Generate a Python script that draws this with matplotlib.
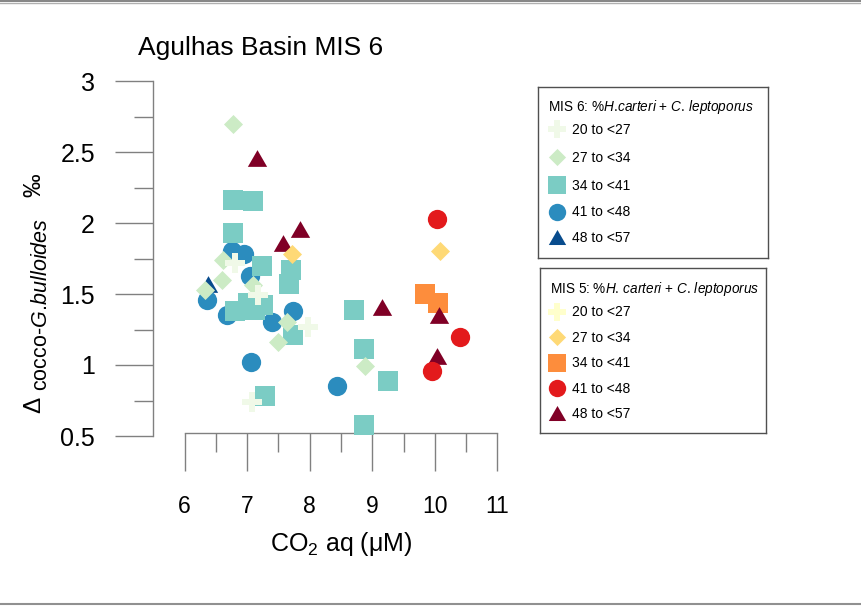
import matplotlib
matplotlib.use('Agg')
import matplotlib.pyplot as plt
from matplotlib.lines import Line2D

plt.rcParams['font.family'] = 'Liberation Sans'
plt.rcParams['mathtext.fontset'] = 'custom'
plt.rcParams['mathtext.rm'] = 'Liberation Sans'
plt.rcParams['mathtext.it'] = 'Liberation Sans:italic'
plt.rcParams['mathtext.bf'] = 'Liberation Sans:bold'

class_labels = ['20 to <27', '27 to <34', '34 to <41', '41 to <48', '48 to <57']

# MIS 6 samples, split by %H.carteri + C. leptoporus class
mis6_20_x = [6.80, 7.18, 7.98, 7.07]
mis6_20_y = [1.72, 1.49, 1.27, 0.74]
mis6_27_x = [6.78, 6.62, 6.59, 6.33, 7.10, 7.63, 7.50, 8.89]
mis6_27_y = [2.70, 1.74, 1.60, 1.53, 1.56, 1.30, 1.16, 0.99]
mis6_34_x = [6.77, 7.09, 6.77, 7.23, 7.70, 7.67, 7.01, 6.81, 7.25, 7.13, 7.73, 8.71, 8.86, 9.25, 8.86, 7.28]
mis6_34_y = [2.16, 2.155, 1.93, 1.70, 1.67, 1.57, 1.44, 1.38, 1.42, 1.39, 1.21, 1.39, 1.11, 0.89, 0.58, 0.78]
mis6_41_x = [6.75, 6.95, 7.04, 6.36, 6.68, 7.39, 7.73, 7.06, 8.43]
mis6_41_y = [1.80, 1.78, 1.63, 1.46, 1.35, 1.30, 1.38, 1.02, 0.85]
mis6_48_x = [6.38]
mis6_48_y = [1.57]

# MIS 5 samples
mis5_20_x = []
mis5_20_y = []
mis5_27_x = [7.71, 10.09]
mis5_27_y = [1.78, 1.80]
mis5_34_x = [9.84, 10.05]
mis5_34_y = [1.50, 1.44]
mis5_41_x = [10.04, 10.40, 9.96]
mis5_41_y = [2.03, 1.20, 0.96]
mis5_48_x = [7.15, 7.85, 7.58, 9.15, 10.07, 10.03]
mis5_48_y = [2.46, 1.96, 1.86, 1.41, 1.35, 1.06]

mis6_colors = ['#f0f9e8', '#ccebc5', '#7bccc4', '#2b8cbe', '#084c8d']
mis5_colors = ['#ffffcc', '#fed976', '#fd8d3c', '#e31a1c', '#800026']

tri = [(-1, -0.866), (1, -0.866), (0, 0.866), (-1, -0.866)]
markers = ['P', 'D', 's', 'o', tri]
msizes = [14.0, 9.7, 14.2, 13.9, 13.9]

W, H = 862, 606
fig = plt.figure(figsize=(W / 100, H / 100), dpi=100)


def fx(px):
    return px / W


def fy(py):
    return (H - py) / H


ax = fig.add_axes([fx(184.7), fy(436), fx(497.3) - fx(184.7), fy(81) - fy(436)])

mis6 = [(mis6_20_x, mis6_20_y), (mis6_27_x, mis6_27_y), (mis6_34_x, mis6_34_y),
        (mis6_41_x, mis6_41_y), (mis6_48_x, mis6_48_y)]
mis5 = [(mis5_20_x, mis5_20_y), (mis5_27_x, mis5_27_y), (mis5_34_x, mis5_34_y),
        (mis5_41_x, mis5_41_y), (mis5_48_x, mis5_48_y)]

# drawing order of the classes
for i in [4, 3, 2, 1, 0]:
    xs, ys = mis6[i]
    ax.scatter(xs, ys, s=msizes[i] ** 2, marker=markers[i], color=mis6_colors[i],
               linewidths=0, clip_on=False, zorder=3)
for i in [0, 2, 4, 1, 3]:
    xs, ys = mis5[i]
    if len(xs) == 0:
        continue
    ax.scatter(xs, ys, s=msizes[i] ** 2, marker=markers[i], color=mis5_colors[i],
               linewidths=0, clip_on=False, zorder=4)

ax.set_xlim(6, 11)
ax.set_ylim(0.5, 3)
ax.set_xticks([6, 7, 8, 9, 10, 11])
ax.set_xticks([6.5, 7.5, 8.5, 9.5, 10.5], minor=True)
ax.set_yticks([0.5, 1, 1.5, 2, 2.5, 3])
ax.set_yticklabels(['0.5', '1', '1.5', '2', '2.5', '3'])
ax.set_yticks([0.75, 1.25, 1.75, 2.25, 2.75], minor=True)

for s in ['top', 'right']:
    ax.spines[s].set_visible(False)
ax.spines['left'].set_position(('outward', 22.8))
ax.spines['bottom'].set_position(('data', 0.52))
for s in ['left', 'bottom']:
    ax.spines[s].set_color('#808080')
    ax.spines[s].set_linewidth(1.0)

ax.tick_params(which='major', length=27.4, width=1.0, color='#808080')
ax.tick_params(which='minor', length=13.7, width=1.0, color='#808080')
ax.tick_params(axis='y', which='major', pad=14.4, labelsize=18)
ax.tick_params(axis='x', which='major', pad=17, labelsize=16.5)

fig.text(fx(138), fy(54.5), 'Agulhas Basin MIS 6', fontsize=19, ha='left', va='baseline')
fig.text(fx(341), fy(551), 'CO$_2$ aq (μM)', fontsize=18, ha='center', va='baseline')

# y label built from pieces so the subscript can be sized on its own
fig.text(fx(40), fy(413), 'Δ', fontsize=17.5, rotation=90, rotation_mode='anchor',
         ha='left', va='baseline')
fig.text(fx(47), fy(391), r'cocco-$\mathit{G.\!bulloides}$', fontsize=15.5, rotation=90,
         rotation_mode='anchor', ha='left', va='baseline')
fig.text(fx(40), fy(197), '‰', fontsize=17, rotation=90, rotation_mode='anchor',
         ha='left', va='baseline')


def legend_box(left, top, right, bottom, title, title_y, title_x, row_ys, colors):
    lax = fig.add_axes([fx(left), fy(bottom), fx(right) - fx(left), fy(top) - fy(bottom)])
    lax.set_xlim(left, right)
    lax.set_ylim(bottom, top)
    lax.set_xticks([])
    lax.set_yticks([])
    for sp in lax.spines.values():
        sp.set_color('#505050')
        sp.set_linewidth(1.0)
    lax.text(title_x, title_y, title, fontsize=9.8, ha='left', va='center')
    for i, ry in enumerate(row_ys):
        lax.scatter([557.5], [ry], s=(msizes[i] * 0.9) ** 2, marker=markers[i],
                    color=colors[i], linewidths=0, clip_on=False)
        lax.text(572, ry + 0.5, class_labels[i], fontsize=10, ha='left', va='center')


legend_box(538.3, 86.7, 768.3, 258.3,
           r'MIS 6: %$\mathit{H.\!carteri}$ + $\mathit{C.\,leptoporus}$',
           107, 548.3, [129, 157.5, 185, 211.7, 237.5], mis6_colors)
legend_box(540, 268.3, 765.7, 433.3,
           r'MIS 5: %$\mathit{H.\,carteri}$ + $\mathit{C.\,leptoporus}$',
           288.8, 550, [311.7, 337.3, 362.7, 388.3, 413.3], mis5_colors)

# window frame lines along the top and bottom edges
fig.add_artist(Line2D([0, 1], [fy(0.7), fy(0.7)], transform=fig.transFigure,
                      color='#707070', lw=1.2))
fig.add_artist(Line2D([0, 1], [fy(2.8), fy(2.8)], transform=fig.transFigure,
                      color='#b0b0b0', lw=1.0))
fig.add_artist(Line2D([0, 1], [fy(603.8), fy(603.8)], transform=fig.transFigure,
                      color='#909090', lw=1.5))

fig.savefig('out.png', dpi=100)
